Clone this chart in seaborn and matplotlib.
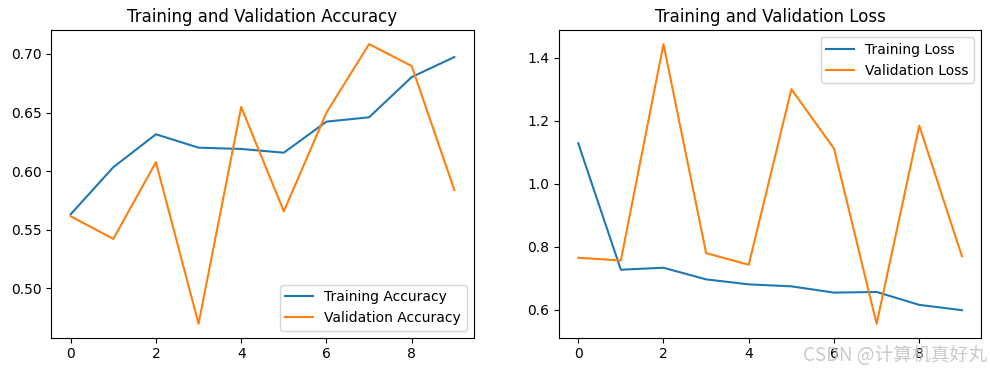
import matplotlib
matplotlib.use("Agg")
import matplotlib.pyplot as plt
import seaborn as sns

epochs = list(range(10))
acc = [0.5633, 0.6034, 0.6315, 0.6201, 0.6190, 0.6158, 0.6423, 0.6460, 0.6803, 0.6974]
val_acc = [0.5616, 0.5423, 0.6077, 0.4699, 0.6548, 0.5658, 0.6500, 0.7084, 0.6897, 0.5840]
loss = [1.1286, 0.7273, 0.7336, 0.6967, 0.6809, 0.6746, 0.6547, 0.6568, 0.6158, 0.5990]
val_loss = [0.7652, 0.7567, 1.4430, 0.7800, 0.7431, 1.3000, 1.1115, 0.5558, 1.1842, 0.7703]


def main():
    fig = plt.figure(figsize=(9.9, 3.72), dpi=100)
    fig.subplots_adjust(left=0.052, right=0.991, top=0.919, bottom=0.092, wspace=0.2026)

    ax1 = fig.add_subplot(1, 2, 1)
    sns.lineplot(x=epochs, y=acc, label="Training Accuracy", color="tab:blue", ax=ax1)
    sns.lineplot(x=epochs, y=val_acc, label="Validation Accuracy", color="tab:orange", ax=ax1)
    ax1.legend(loc="lower right")
    ax1.set_title("Training and Validation Accuracy")

    ax2 = fig.add_subplot(1, 2, 2)
    sns.lineplot(x=epochs, y=loss, label="Training Loss", color="tab:blue", ax=ax2)
    sns.lineplot(x=epochs, y=val_loss, label="Validation Loss", color="tab:orange", ax=ax2)
    ax2.legend(loc="upper right")
    ax2.set_title("Training and Validation Loss")

    # watermark (sits over the tick labels in the original too)
    fig.text(0.997, 0.045, "CSDN @计算机真好丸", ha="right", va="center",
             fontsize=13.5, color="#c4c4c4", alpha=0.9,
             family=["Noto Sans CJK SC", "DejaVu Sans"])

    fig.savefig("out.png", dpi=100)


if __name__ == "__main__":
    main()
